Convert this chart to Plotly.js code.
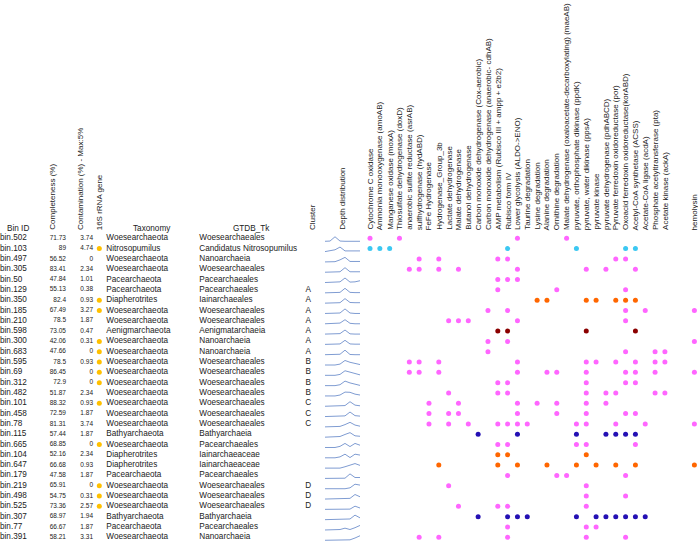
<!DOCTYPE html>
<html><head><meta charset="utf-8">
<script src="https://cdn.plot.ly/plotly-3.0.1.min.js"></script>
<style>html,body{margin:0;padding:0;background:#fff;overflow:hidden}</style>
</head><body><div id="chart" style="width:698px;height:542px"></div>
<script>
// ---------------- DATA ----------------
const binIds = ['bin.502','bin.103','bin.497','bin.305','bin.50','bin.129','bin.350','bin.185','bin.210','bin.598','bin.300','bin.683','bin.595','bin.69','bin.312','bin.482','bin.101','bin.458','bin.78','bin.115','bin.665','bin.104','bin.647','bin.179','bin.219','bin.498','bin.525','bin.307','bin.77','bin.391'];
const completeness = [71.73,89,56.52,83.41,47.84,55.13,82.4,67.49,78.5,73.05,42.06,47.66,78.5,86.45,72.9,51.87,88.32,72.59,81.31,57.44,68.85,52.16,66.68,47.58,65.91,54.75,73.36,68.97,66.67,58.21];
const contamination = [3.74,4.74,0,2.34,1.01,0.38,0.93,3.27,1.87,0.47,0.31,0,0.93,0,0,2.34,0.93,1.87,3.74,1.87,0,2.34,0.93,1.87,0,0.31,2.57,1.94,1.87,3.31];
const has16S = [0,1,0,0,0,0,1,1,0,0,1,1,1,1,1,0,1,0,0,0,1,0,0,0,1,1,1,0,0,0];
const taxonomy = ['Woesearchaeota','Nitrosopumilus','Woesearchaeota','Woesearchaeota','Pacearchaeota','Pacearchaeota','Diapherotrites','Woesearchaeota','Woesearchaeota','Aenigmarchaeota','Woesearchaeota','Woesearchaeota','Woesearchaeota','Woesearchaeota','Woesearchaeota','Woesearchaeota','Woesearchaeota','Woesearchaeota','Woesearchaeota','Bathyarchaeota','Woesearchaeota','Diapherotrites','Diapherotrites','Pacearchaeota','Woesearchaeota','Woesearchaeota','Woesearchaeota','Bathyarchaeota','Pacearchaeota','Woesearchaeota'];
const gtdb = ['Woesearchaeales','Candidatus Nitrosopumilus','Nanoarchaeia','Woesearchaeales','Pacearchaeales','Pacearchaeales','Iainarchaeales','Woesearchaeales','Woesearchaeales','Aenigmatarchaeia','Nanoarchaeia','Nanoarchaeia','Woesearchaeales','Woesearchaeales','Woesearchaeales','Woesearchaeales','Woesearchaeales','Woesearchaeales','Woesearchaeales','Bathyarchaeia','Pacearchaeales','Iainarchaeaceae','Iainarchaeaceae','Pacearchaeales','Woesearchaeales','Woesearchaeales','Woesearchaeales','Bathyarchaeia','Pacearchaeales','Nanoarchaeia'];
const cluster = ['','','','','','A','A','A','A','A','A','A','B','B','B','B','C','C','C','','','','','','D','D','D','','',''];
// relative abundance along depth (8 samples) per bin
const depthProfile = [
 [0,0.05,1,0.05,0,0,0,0],
 [0,0.15,0.4,1,0.15,0.15,0.15,0.15],
 [0,0,0.05,0.45,1,0.1,0.1,0.1],
 [0,0,0,0.1,1,0.1,0.1,0.1],
 [0,0,0,0.15,1,0.1,0.15,0.4],
 [0,0,0,0.1,1,0.1,0.05,0.05],
 [0,0,0,0.1,1,0.15,0.1,0.1],
 [0,0,0,0.1,1,0.1,0,0],
 [0,0,0,0.15,0.9,0.1,0,0],
 [0,0,0,0.1,0.9,0.05,0,0],
 [0,0,0,0.1,0.9,0.1,0.05,0.05],
 [0,0,0,0.1,1,0.05,0,0],
 [0,0,0,0.2,1,0.6,0.3,0.1],
 [0,0,0,0.2,1,0.7,0.35,0.1],
 [0,0,0,0.2,1,0.6,0.3,0.05],
 [0,0,0,0.2,0.85,0.8,0.4,0.2],
 [0,0,0,0,0.15,1,0.25,0.1],
 [0,0,0,0,0.15,1,0.2,0.1],
 [0,0,0,0.1,0.5,1,0.4,0.15],
 [0,0,0,0.15,0.6,1,0.3,0.2],
 [0,0,0,0.25,0.9,0.2,0.9,0.5],
 [0,0,0,0.2,0.8,0.05,0.8,0.6],
 [0,0,0,0,0.3,0.7,1,0.6],
 [0,0,0,0,0.05,1,0.2,0.2],
 [0,0,0,0,0,0.2,1,0.8],
 [0,0,0,0,0,0.15,1,0.5],
 [0,0,0,0,0,0.05,0.7,0.3],
 [0,0,0,0,0,0.15,1,0.4],
 [0,0,0,0.1,0.4,0.1,0.5,1],
 [0,0,0,0,0,0.1,0.5,1]
];
const functions = ['Cytochrome C oxidase','Ammonia monooxygenase (amoAB)','Manganese oxidase (moxA)','Thiosulfate dehydrogenase (doxD)','anaerobic sulfite reductase (asrAB)','sulfhydrogenase (hydABD)','FeFe Hydrogenase','Hydrogenase_Group_3b','Lactate dehydrogenase','Malate dehydrogenase','Butanol dehydrogenase','Carbon monoxide dehydrogenase (Cox-aerobic)','Carbon monoxide dehydrogenase (anaerobic- cdhAB)','AMP metabolism (Rubisco III + ampp + e2b2)','Rubisco form IV','Lower glycolysis (ALDO->ENO)','Taurine degradation','Lysine degradation','Alanine degradation','Ornithine degradation','Malate dehydrogenase (oxaloacetate-decarboxylating) (maeAB)','pyruvate, orthophosphate dikinase (ppdK)','pyruvate, water dikinase (ppsA)','pyruvate kinase','pyruvate dehydrogenase (pdhABCD)','Pyruvate ferredoxin oxidoreductase (por)','Oxoacid ferredoxin oxidoreductase(korABD)','Acetyl-CoA synthetase (ACSS)','Acetate-CoA ligase (acdA)','Phosphate acetyltransferase (pta)','Acetate kinase (ackA)','','','hemolysin'];
// functions present per bin (indices into functions)
const presence = [
 [0,3,15,20],
 [0,1,2,14,21,26,27],
 [5,7,13,14,25,26],
 [4,5,7,9,15,22,24,27],
 [13,14,15],
 [13,19,26],
 [17,18,22,23,25,26,27],
 [12,14,26,28,33],
 [8,9,10,15,26],
 [13,14,22,27],
 [12,14,33],
 [12,26,29,30],
 [4,5,7,15,22,23,25,27,29,30],
 [4,5,7,15,18,19,22,26,27,29,33],
 [13,14,22,26,27],
 [8,13,14,22,24,25,29,30],
 [6,9,15,17,19,22,24],
 [6,8,9,15,19,22,26,27],
 [6,8,10,13,14,15,16,21,22,25,28,33],
 [11,15,21,24,25,26,27],
 [13,14,21,22,27],
 [13,14,22],
 [7,13,15,18,21,23,25,27,33],
 [14,19,20,26],
 [8,22],
 [22,26],
 [9,13,14,22],
 [11,14,15,16,21,23,24,25,26,27,28],
 [14,22,23],
 [5,7,14,22,26]
];
const rowGroup = ['p','c','p','p','p','p','o','p','p','r','p','p','p','p','p','p','p','p','p','n','p','o','o','p','p','p','p','n','p','p'];

// ---------------- STYLE / LAYOUT ----------------
const W = 698, H = 542;
const ROW0 = 238.3, ROWH = 10.31, COL0 = 370, COLW = 9.83;
const FONT = 'Liberation Sans, Arial, sans-serif';
const TXT = '#222';
const groupColor = {p:'#ff66ff', c:'#3cc8f2', o:'#ff6600', r:'#8b0000', n:'#2410b4'};
const rows = binIds.map((_, i) => i);
const rep = v => rows.map(() => v);

const traces = [];
function textTrace(xpos, texts, pos, size) {
  traces.push({type:'scatter', mode:'text', xaxis:'x2', yaxis:'y', x:rep(xpos), y:rows,
    text:texts, textposition:pos, cliponaxis:false, hoverinfo:'skip',
    textfont:{family:FONT, size:size, color:TXT}});
}
textTrace(0, binIds, 'middle right', 8.2);
textTrace(66, completeness.map(String), 'middle left', 6.5);
textTrace(93, contamination.map(String), 'middle left', 6.5);
textTrace(106.3, taxonomy, 'middle right', 8.2);
textTrace(199.3, gtdb, 'middle right', 8.2);
textTrace(308.3, cluster, 'middle center', 8.2);

// 16S dots
const r16 = rows.filter(i => has16S[i]);
traces.push({type:'scatter', mode:'markers', xaxis:'x2', yaxis:'y', x:r16.map(() => 99.3), y:r16,
  marker:{size:5, color:'#ffc000'}, cliponaxis:false, hoverinfo:'skip'});

// depth sparklines
rows.forEach(i => {
  traces.push({type:'scatter', mode:'lines', xaxis:'x3', yaxis:'y',
    x:depthProfile[i].map((_, k) => k), y:depthProfile[i].map(v => i + 0.29 - v * 0.44),
    line:{color:'#7f9cd2', width:1}, cliponaxis:false, hoverinfo:'skip'});
});

// function matrix
Object.keys(groupColor).forEach(g => {
  const xs = [], ys = [];
  rows.forEach(i => { if (rowGroup[i] === g) presence[i].forEach(f => { xs.push(f); ys.push(i); }); });
  traces.push({type:'scatter', mode:'markers', xaxis:'x', yaxis:'y', x:xs, y:ys,
    marker:{size:5, color:groupColor[g]}, cliponaxis:false, hoverinfo:'skip'});
});

// headers
const yHead = 1 - 231 / H;
const ann = [];
functions.forEach((f, k) => {
  if (!f) return;
  ann.push({text:f, xref:'x', x:k, yref:'paper', y:yHead, xanchor:'center', yanchor:'bottom',
    textangle:-90, showarrow:false, font:{family:FONT, size:8, color:TXT}, borderpad:0});
});
[['Completeness (%)',51.7],['Contamination (%) - Max:5%',80],['16S rRNA gene',99.3],['Cluster',312],['Depth distribution',341.7]].forEach(h => {
  ann.push({text:h[0], xref:'x2', x:h[1], yref:'paper', y:yHead, xanchor:'center', yanchor:'bottom',
    textangle:-90, showarrow:false, font:{family:FONT, size:8, color:TXT}, borderpad:0});
});
[['Bin ID',18],['Taxonomy',152.3],['GTDB_Tk',251]].forEach(h => {
  ann.push({text:h[0], xref:'x2', x:h[1], yref:'paper', y:1 - 228 / H, xanchor:'center', yanchor:'middle',
    showarrow:false, font:{family:FONT, size:8.2, color:TXT}, borderpad:0});
});

const layout = {
  width:W, height:H, margin:{l:0, r:0, t:0, b:0, pad:0},
  paper_bgcolor:'#fff', plot_bgcolor:'#fff', showlegend:false, hovermode:false,
  xaxis:{range:[-COL0 / COLW, (W - COL0) / COLW], visible:false, fixedrange:true},
  xaxis2:{range:[0, W], overlaying:'x', visible:false, fixedrange:true},
  xaxis3:{domain:[325 / W, 360 / W], range:[0, 7], anchor:'y', visible:false, fixedrange:true},
  yaxis:{range:[(H - ROW0) / ROWH, -ROW0 / ROWH], visible:false, fixedrange:true},
  annotations:ann
};
Plotly.newPlot('chart', traces, layout, {staticPlot:true, displayModeBar:false});
</script></body></html>
